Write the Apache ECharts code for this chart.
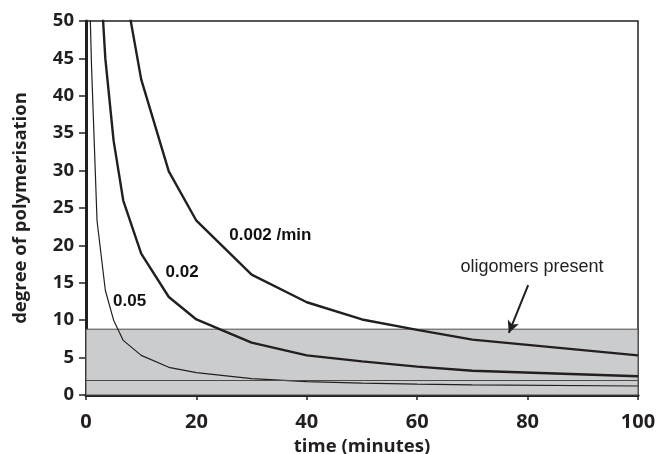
<!doctype html>
<html>
    <head>
        <meta charset="utf-8">
        <style>
            html, body { margin: 0; padding: 0; background: #fff; }
            #main { width: 656px; height: 454px; }
        </style>
    </head>
    <body>
        <div id="main"></div>
        <script src="https://cdn.jsdelivr.net/npm/echarts@6/dist/echarts.min.js"></script>
        <script>
            // sample times (minutes), shared by the three curves
            var times = [0.5, 1, 2, 3.5, 5, 6.75, 10, 15, 20, 30, 40, 50, 60, 70, 100];

            // degree of polymerisation for each rate constant (values above 50 run off the top)
            var dp005 = [58, 44, 23.3, 14, 10, 7.3, 5.3, 3.7, 3.0, 2.2, 1.8, 1.6, 1.45, 1.35, 1.2];
            var dp002 = [null, null, 63.7, 45, 34, 26, 18.9, 13.1, 10.1, 7.0, 5.3, 4.5, 3.8, 3.25, 2.5];
            var dp0002 = [null, null, null, null, 62, 55.6, 42.2, 29.9, 23.3, 16.1, 12.4, 10.1, 8.7, 7.4, 5.3];

            // oligomer region and dimer line
            var oligomerTop = 8.8;
            var dimerLine = 2;

            // curve labels [time, dp, text]
            var curveLabels = [
                [33.4, 21.4, '0.002 /min'],
                [17.4, 16.4, '0.02'],
                [7.9, 12.5, '0.05']
            ];
            var noteLabel = [[80.8, 17.1, 'oligomers present']];
            var arrowFrom = [80.1, 14.7];
            var arrowTo = [76.6, 8.3];

            function pairs(vals) {
                return times.map(function (t, i) { return [t, vals[i]]; });
            }

            var ink = '#231f20';
            var chart = echarts.init(document.getElementById('main'));

            chart.setOption({
                animation: false,
                grid: {
                    left: 86, right: 18, top: 21, bottom: 59,
                    outerBoundsMode: 'none',
                    show: true,
                    borderColor: ink,
                    borderWidth: 1.5
                },
                xAxis: {
                    type: 'value',
                    min: 0, max: 100, interval: 20,
                    name: 'time (minutes)',
                    nameLocation: 'middle',
                    nameGap: 41,
                    nameTextStyle: { fontFamily: 'Open Sans', fontWeight: 'bold', fontSize: 18.5, color: ink },
                    axisLine: { lineStyle: { color: ink, width: 3 } },
                    axisTick: { length: 5, lineStyle: { color: ink, width: 1.5 } },
                    axisLabel: { fontFamily: 'Open Sans', fontWeight: 'bold', fontSize: 20, color: ink, margin: 17 },
                    splitLine: { show: false }
                },
                yAxis: {
                    type: 'value',
                    min: 0, max: 50, interval: 5,
                    name: 'degree of polymerisation',
                    nameLocation: 'middle',
                    nameGap: 56,
                    nameTextStyle: { fontFamily: 'Open Sans', fontWeight: 'bold', fontSize: 18.5, color: ink },
                    axisLine: { lineStyle: { color: ink, width: 3 } },
                    axisTick: { length: 7, lineStyle: { color: ink, width: 1.5 } },
                    axisLabel: { fontFamily: 'Open Sans', fontWeight: 'bold', fontSize: 18.5, color: ink, margin: 12 },
                    splitLine: { show: false }
                },
                series: [
                    {
                        type: 'line',
                        data: [],
                        z: 1,
                        markArea: {
                            silent: true,
                            itemStyle: { color: '#cbcccd', borderColor: '#4a4a4a', borderWidth: 1 },
                            data: [[{ yAxis: 0 }, { yAxis: oligomerTop }]]
                        },
                        markLine: {
                            silent: true,
                            symbol: 'none',
                            label: { show: false },
                            lineStyle: { color: '#4a4a4a', width: 1, type: 'solid' },
                            data: [{ yAxis: dimerLine }]
                        }
                    },
                    {
                        type: 'line', z: 3, showSymbol: false,
                        data: pairs(dp005),
                        lineStyle: { color: ink, width: 1.2 }
                    },
                    {
                        type: 'line', z: 3, showSymbol: false,
                        data: pairs(dp002),
                        lineStyle: { color: ink, width: 2.4 }
                    },
                    {
                        type: 'line', z: 3, showSymbol: false,
                        data: pairs(dp0002),
                        lineStyle: { color: ink, width: 2.4 },
                        markLine: {
                            silent: true,
                            symbol: ['none', 'arrow'],
                            symbolSize: [9, 12],
                            label: { show: false },
                            lineStyle: { color: ink, width: 2, type: 'solid' },
                            data: [[{ coord: arrowFrom }, { coord: arrowTo }]]
                        }
                    },
                    {
                        type: 'scatter', z: 4, silent: true,
                        symbolSize: 1,
                        itemStyle: { color: 'transparent', opacity: 1 },
                        label: {
                            show: true, position: 'inside',
                            fontFamily: 'Liberation Sans', fontWeight: 'bold', fontSize: 17, color: '#111',
                            formatter: function (p) { return p.data[2]; }
                        },
                        data: curveLabels
                    },
                    {
                        type: 'scatter', z: 4, silent: true,
                        symbolSize: 1,
                        itemStyle: { color: 'transparent', opacity: 1 },
                        label: {
                            show: true, position: 'inside',
                            fontFamily: 'Liberation Sans', fontSize: 18, color: ink,
                            formatter: function (p) { return p.data[2]; }
                        },
                        data: noteLabel
                    }
                ]
            });

            window.onresize = chart.resize;
        </script>
    </body>
</html>
